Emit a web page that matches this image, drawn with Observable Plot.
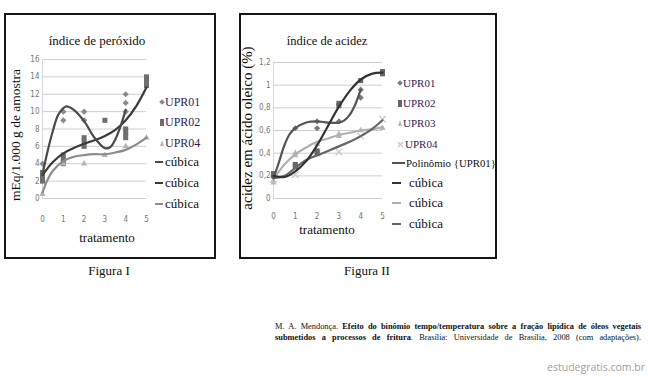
<!DOCTYPE html>
<html>
<head>
<meta charset="utf-8">
<script src="https://cdn.jsdelivr.net/npm/d3@7"></script>
<script src="https://cdn.jsdelivr.net/npm/@observablehq/plot@0.6"></script>
<style>
  html, body { margin: 0; padding: 0; background: #ffffff; }
  #page { position: relative; width: 648px; height: 377px; overflow: hidden; background: #fefffe; font-family: "Liberation Serif", serif; color: #111; }
  .abs { position: absolute; white-space: nowrap; }
  .box { position: absolute; border: 2px solid #161616; box-sizing: border-box; }
  .ctr { transform: translate(-50%, -50%); }
  .lft { transform: translate(0, -50%); }
  .rot { transform: translate(-50%, -50%) rotate(-90deg); }
  .leg { color: #2e1d57; }
  .mk { position: absolute; }
  .caption { position: absolute; left: 275px; width: 366px; font-size: 8.4px; text-align: justify; text-align-last: justify; white-space: nowrap; line-height: 11px; }
</style>
</head>
<body>
<div id="page"></div>
<script>
// ---------- Figure I : índice de peróxido ----------
const perTicksX = [0, 1, 2, 3, 4, 5];
const perTicksY = [0, 2, 4, 6, 8, 10, 12, 14, 16];
const per01X = [0, 1, 1, 2, 2, 4, 4, 4];
const per01Y = [4, 10, 9, 10, 9, 12, 11, 10];
const per02X = [0, 0, 0, 1, 1, 1, 2, 2, 2, 3, 4, 4, 4, 5, 5, 5];
const per02Y = [2, 3, 2.5, 4, 5, 4.5, 6, 7, 6.5, 9, 7, 8, 7.5, 13, 14, 13.5];
const per04X = [0, 1, 2, 3, 4, 5];
const per04Y = [0.5, 4, 4, 5, 6, 7];
const perCub01X = [0, 0.25, 0.5, 0.75, 1, 1.15, 1.5, 2, 2.5, 3, 3.25, 3.5, 3.75, 4];
const perCub01Y = [2.8, 5.5, 7.8, 9.6, 10.4, 10.6, 10.2, 8.9, 7.0, 5.8, 5.9, 6.8, 8.3, 10.2];
const perCub02X = [0, 0.5, 1, 1.5, 2, 2.5, 3, 3.5, 4, 4.5, 5];
const perCub02Y = [2.7, 4.2, 5.2, 5.8, 6.3, 6.7, 7.2, 7.9, 9.0, 10.6, 12.8];
const perCub04X = [0, 0.25, 0.5, 1, 1.5, 2, 2.5, 3, 3.5, 4, 4.5, 5];
const perCub04Y = [0.7, 2.2, 3.2, 4.3, 4.8, 5.0, 5.1, 5.1, 5.3, 5.6, 6.2, 7.0];

// ---------- Figure II : índice de acidez ----------
const acTicksX = [0, 1, 2, 3, 4, 5];
const acTicksY = [0, 0.2, 0.4, 0.6, 0.8, 1, 1.2];
const ac01X = [0, 1, 2, 2, 3, 4, 4];
const ac01Y = [0.2, 0.62, 0.68, 0.62, 0.68, 0.96, 0.89];
const ac02X = [0, 0, 1, 1, 2, 2, 3, 3, 4, 5, 5];
const ac02Y = [0.2, 0.22, 0.3, 0.28, 0.42, 0.4, 0.84, 0.82, 1.04, 1.1, 1.12];
const ac03X = [0, 1, 1, 2, 3, 3, 4, 5];
const ac03Y = [0.14, 0.4, 0.38, 0.48, 0.55, 0.57, 0.6, 0.62];
const ac04X = [0, 1, 2, 3, 4, 5];
const ac04Y = [0.17, 0.21, 0.4, 0.41, 0.55, 0.7];
const acPoly01X = [0, 0.25, 0.5, 0.75, 1, 1.5, 2, 2.5, 3, 3.25, 3.5, 3.75, 4];
const acPoly01Y = [0.18, 0.32, 0.47, 0.57, 0.62, 0.67, 0.68, 0.67, 0.67, 0.69, 0.74, 0.83, 0.96];
const acCub02X = [0, 0.5, 1, 1.5, 2, 2.5, 3, 3.5, 4, 4.5, 5];
const acCub02Y = [0.2, 0.19, 0.24, 0.33, 0.47, 0.64, 0.81, 0.95, 1.05, 1.1, 1.11];
const acCub03X = [0, 0.5, 1, 1.5, 2, 2.5, 3, 3.5, 4, 4.5, 5];
const acCub03Y = [0.17, 0.3, 0.39, 0.45, 0.5, 0.53, 0.56, 0.58, 0.6, 0.61, 0.63];
const acCub04X = [0, 0.5, 1, 1.5, 2, 2.5, 3, 3.5, 4, 4.5, 5];
const acCub04Y = [0.18, 0.2, 0.27, 0.34, 0.38, 0.42, 0.46, 0.5, 0.55, 0.61, 0.69];

const zip = (xs, ys) => xs.map((x, i) => ({x, y: ys[i]}));
const page = document.getElementById("page");

function addEl(html, cls, style) {
  const d = document.createElement("div");
  d.className = "abs " + (cls || "");
  d.innerHTML = html;
  Object.assign(d.style, style);
  page.appendChild(d);
  return d;
}
function addBox(l, t, w, h) {
  const d = document.createElement("div");
  d.className = "box";
  Object.assign(d.style, {left: l + "px", top: t + "px", width: w + "px", height: h + "px"});
  page.appendChild(d);
}
function placeSvg(svg, l, t) {
  svg.style.position = "absolute";
  svg.style.left = l + "px";
  svg.style.top = t + "px";
  page.appendChild(svg);
}
// legend swatch: centred at (cx, cy)
function addMarker(sym, c, cx, cy) {
  const d = document.createElement("div");
  d.className = "mk";
  let w = 4, h = 4, st = {};
  if (sym === "diamond") { w = 4; h = 4; st = {background: c, transform: "rotate(45deg)"}; }
  else if (sym === "square") { w = 4; h = 7; st = {background: c}; }
  else if (sym === "triangle") { w = 0; h = 0; st = {borderLeft: "2.5px solid transparent", borderRight: "2.5px solid transparent", borderBottom: "6px solid " + c}; w = 5; h = 6; }
  else if (sym === "x") {
    d.innerHTML = `<svg width="7" height="7" style="display:block"><path d="M1,1L6,6M6,1L1,6" stroke="${c}" stroke-width="1.2"/></svg>`;
    w = 7; h = 7;
  }
  Object.assign(d.style, {left: (cx - w / 2) + "px", top: (cy - h / 2) + "px"}, st);
  if (sym !== "triangle" && sym !== "x") { d.style.width = w + "px"; d.style.height = h + "px"; }
  page.appendChild(d);
}
function addLineSwatch(c, x0, x1, cy, th) {
  const d = document.createElement("div");
  d.className = "mk";
  Object.assign(d.style, {left: x0 + "px", top: (cy - th / 2) + "px", width: (x1 - x0) + "px", height: th + "px", background: c});
  page.appendChild(d);
}
const tickStyle = {fontFamily: "'Liberation Sans Narrow', 'DejaVu Sans Condensed', sans-serif", fontSize: "8px", color: "#777", background: "transparent", overflow: "visible"};
const curveW = 2.2;

// boxes
addBox(4, 13, 212, 246);
addBox(239, 13, 258, 246);

// ---- Figure I plot
const fig1 = Plot.plot({
  width: 150, height: 245,
  marginLeft: 38, marginRight: 8, marginTop: 46, marginBottom: 60,
  x: {domain: [0, 5], ticks: perTicksX, tickSize: 0, tickPadding: 18, label: null, tickFormat: d => String(d)},
  y: {domain: [0, 16], ticks: perTicksY, tickSize: 0, tickPadding: 3, label: null, tickFormat: d => String(d)},
  style: tickStyle,
  marks: [
    Plot.ruleY(perTicksY, {stroke: "#cfcfcf", strokeWidth: 1}),
    Plot.ruleX([0], {stroke: "#d8d8d8"}),
    Plot.dot(zip(per01X, per01Y), {x: "x", y: "y", symbol: "diamond2", r: 2.8, fill: "#8a8a8a", stroke: "none"}),
    Plot.dot(zip(per02X, per02Y), {x: "x", y: "y", symbol: "square2", r: 3.2, fill: "#6e6e6e", stroke: "none"}),
    Plot.dot(zip(per04X, per04Y), {x: "x", y: "y", symbol: "triangle2", r: 3, fill: "#b5b5b5", stroke: "none"}),
    Plot.line(zip(perCub04X, perCub04Y), {x: "x", y: "y", curve: "catmull-rom", stroke: "#8c8c8c", strokeWidth: curveW}),
    Plot.line(zip(perCub02X, perCub02Y), {x: "x", y: "y", curve: "catmull-rom", stroke: "#3a3a3a", strokeWidth: curveW}),
    Plot.line(zip(perCub01X, perCub01Y), {x: "x", y: "y", curve: "catmull-rom", stroke: "#4a4a4a", strokeWidth: curveW})
  ]
});
placeSvg(fig1, 4, 13);

addEl("índice de peróxido", "ctr", {left: "97px", top: "41px", fontSize: "13px"});
addEl("mEq/1.000 g de amostra", "rot", {left: "16px", top: "135px", fontSize: "13.5px"});
addEl("tratamento", "ctr", {left: "107px", top: "238px", fontSize: "13px"});

// legend I
const leg1 = [
  {t: "UPR01", y: 102, sym: "diamond", c: "#8a8a8a"},
  {t: "UPR02", y: 122, sym: "square", c: "#6e6e6e"},
  {t: "UPR04", y: 143, sym: "triangle", c: "#b5b5b5"}
];
leg1.forEach(d => {
  addMarker(d.sym, d.c, 162, d.y);
  addEl(d.t, "lft leg", {left: "165px", top: d.y + "px", fontSize: "12px"});
});
[["#4a4a4a", 162], ["#3a3a3a", 183], ["#8c8c8c", 204]].forEach(([c, y]) => {
  addLineSwatch(c, 155, 163, y, 2.5);
  addEl("cúbica", "lft", {left: "165px", top: y + "px", fontSize: "13px"});
});

// ---- Figure II plot
const fig2 = Plot.plot({
  width: 151, height: 245,
  marginLeft: 34, marginRight: 8, marginTop: 49, marginBottom: 60,
  x: {domain: [0, 5], ticks: acTicksX, tickSize: 0, tickPadding: 15, label: null, tickFormat: d => String(d)},
  y: {domain: [0, 1.2], ticks: acTicksY, tickSize: 0, tickPadding: 3, label: null, tickFormat: d => String(d).replace(".", ",")},
  style: tickStyle,
  marks: [
    Plot.ruleY(acTicksY, {stroke: "#cfcfcf", strokeWidth: 1}),
    Plot.ruleX([0], {stroke: "#d8d8d8"}),
    Plot.dot(zip(ac04X, ac04Y), {x: "x", y: "y", symbol: "times", r: 3, stroke: "#c8c8c8", strokeWidth: 1.3}),
    Plot.dot(zip(ac03X, ac03Y), {x: "x", y: "y", symbol: "triangle2", r: 3, fill: "#b8b8b8", stroke: "none"}),
    Plot.dot(zip(ac01X, ac01Y), {x: "x", y: "y", symbol: "diamond2", r: 2.8, fill: "#7a7a7a", stroke: "none"}),
    Plot.dot(zip(ac02X, ac02Y), {x: "x", y: "y", symbol: "square2", r: 3.2, fill: "#666666", stroke: "none"}),
    Plot.line(zip(acCub03X, acCub03Y), {x: "x", y: "y", curve: "catmull-rom", stroke: "#b0b0b0", strokeWidth: curveW}),
    Plot.line(zip(acCub04X, acCub04Y), {x: "x", y: "y", curve: "catmull-rom", stroke: "#666666", strokeWidth: curveW}),
    Plot.line(zip(acPoly01X, acPoly01Y), {x: "x", y: "y", curve: "catmull-rom", stroke: "#555555", strokeWidth: curveW}),
    Plot.line(zip(acCub02X, acCub02Y), {x: "x", y: "y", curve: "catmull-rom", stroke: "#333333", strokeWidth: curveW})
  ]
});
placeSvg(fig2, 239, 13);

addEl("índice de acidez", "ctr", {left: "327px", top: "41px", fontSize: "12.5px"});
addEl("acidez em ácido oleico (%)", "rot", {left: "247px", top: "128px", fontSize: "15px"});
addEl("tratamento", "ctr", {left: "327px", top: "230px", fontSize: "13px"});

const leg2 = [
  {t: "UPR01", y: 83, sym: "diamond", c: "#7a7a7a"},
  {t: "UPR02", y: 103, sym: "square", c: "#666666"},
  {t: "UPR03", y: 123, sym: "triangle", c: "#b8b8b8"},
  {t: "UPR04", y: 144, sym: "x", c: "#c8c8c8"}
];
leg2.forEach(d => {
  addMarker(d.sym, d.c, 400, d.y);
  addEl(d.t, "lft leg", {left: d.sym === "x" ? "405px" : "403px", top: d.y + "px", fontSize: "11px"});
});
addLineSwatch("#555555", 392, 405, 163, 2);
addEl("Polinômio {UPR01}", "lft", {left: "406px", top: "163px", fontSize: "10.8px"});
[["#333333", 183], ["#b0b0b0", 203], ["#666666", 224]].forEach(([c, y]) => {
  addLineSwatch(c, 392, 401, y, 2.5);
  addEl("cúbica", "lft", {left: "409px", top: y + "px", fontSize: "13px"});
});

// figure labels
addEl("Figura I", "ctr", {left: "109px", top: "271px", fontSize: "13px"});
addEl("Figura II", "ctr", {left: "367px", top: "271px", fontSize: "13px"});

// source caption
const c1 = document.createElement("div");
c1.className = "caption";
c1.style.top = "321px";
c1.innerHTML = "M. A. Mendonça. <b>Efeito do binômio tempo/temperatura sobre a fração lipídica de óleos vegetais</b>";
page.appendChild(c1);
const c2 = document.createElement("div");
c2.className = "caption";
c2.style.top = "332px";
c2.innerHTML = "<b>submetidos a processos de fritura</b>. Brasília: Universidade de Brasília, 2008 (com adaptações).";
page.appendChild(c2);

addEl("estudegratis.com.br", "", {right: "3px", top: "360px", fontFamily: "'Open Sans', sans-serif", fontSize: "10.5px", color: "#a0a0a0", lineHeight: "14px"});
</script>
</body>
</html>
